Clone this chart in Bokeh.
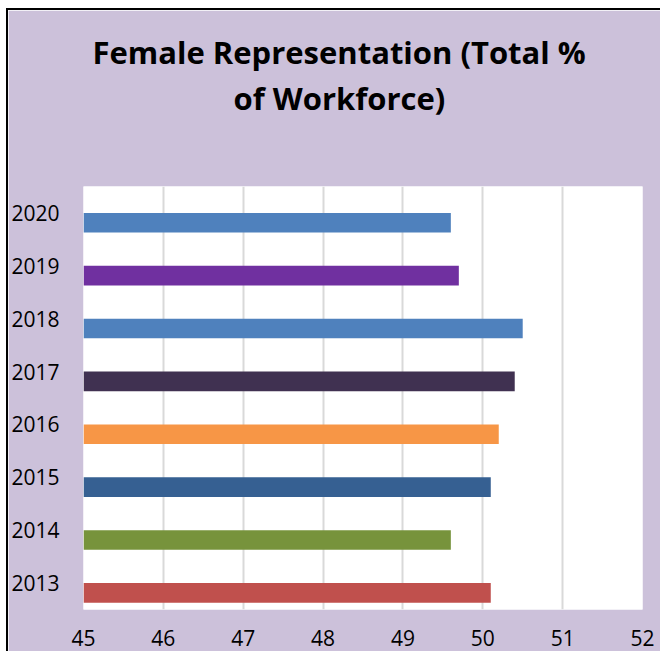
from bokeh.plotting import figure
from bokeh.models import ColumnDataSource, FactorRange, Range1d, Title, FixedTicker
from bokeh.transform import dodge
from bokeh.embed import file_html
from bokeh.resources import INLINE

# ---- data ----
years = ["2013", "2014", "2015", "2016", "2017", "2018", "2019", "2020"]
values = [50.1, 49.6, 50.1, 50.2, 50.4, 50.5, 49.7, 49.6]
colors = ["#C0504D", "#77933C", "#366092", "#F79646", "#403151", "#4F81BD", "#7030A0", "#4F81BD"]
x_ticks = [45, 46, 47, 48, 49, 50, 51, 52]
title_lines = ["Female Representation (Total %", "of Workforce)"]
x_start = 45

BG = "#CCC1DA"
FONT = "Open Sans"

src = ColumnDataSource(dict(year=years, value=values, color=colors))

W, H = 652, 641
p = figure(
    width=W, height=H,
    y_range=FactorRange(factors=years, range_padding=0),
    x_range=Range1d(45, 52),
    output_backend="svg", toolbar_location=None,
    min_border_left=75, min_border_right=20, min_border_top=176, min_border_bottom=44,
)
p.styles = {"box-sizing": "content-box", "margin-left": "6px", "margin-top": "8px",
            "border-left": "2px solid black", "border-top": "2px solid black"}
p.border_fill_color = BG
p.background_fill_color = "white"
p.outline_line_color = None

p.hbar(y=dodge("year", -0.185, range=p.y_range), left=x_start, right="value", height=0.37,
       color="color", line_color=None, source=src)

# axes
p.xaxis.ticker = FixedTicker(ticks=x_ticks)
p.xaxis.axis_line_color = None
p.xaxis.major_tick_line_color = None
p.xaxis.minor_tick_line_color = None
p.xaxis.major_label_text_font = FONT
p.xaxis.major_label_text_font_size = "21px"
p.xaxis.major_label_text_color = "black"
p.xaxis.major_label_standoff = 14

p.yaxis.axis_line_color = None
p.yaxis.major_tick_line_color = None
p.yaxis.major_label_text_font = FONT
p.yaxis.major_label_text_font_size = "21px"
p.yaxis.major_label_text_color = "black"
p.yaxis.major_label_standoff = 18

p.xgrid.grid_line_color = "#d9d9d9"
p.xgrid.grid_line_width = 2
p.ygrid.grid_line_color = None

# title: spacer, then the two lines (later-added titles sit farther from the frame)
p.add_layout(Title(text=" ", text_font_size="10px", standoff=55), "above")
for txt, off, so in zip(reversed(title_lines), [150, 9], [0, 3]):
    p.add_layout(Title(text=txt, align="left", offset=off, standoff=so,
                       text_font=FONT, text_font_style="bold", text_font_size="31px",
                       text_color="black"), "above")

open("out.html", "w").write(file_html(p, INLINE))
